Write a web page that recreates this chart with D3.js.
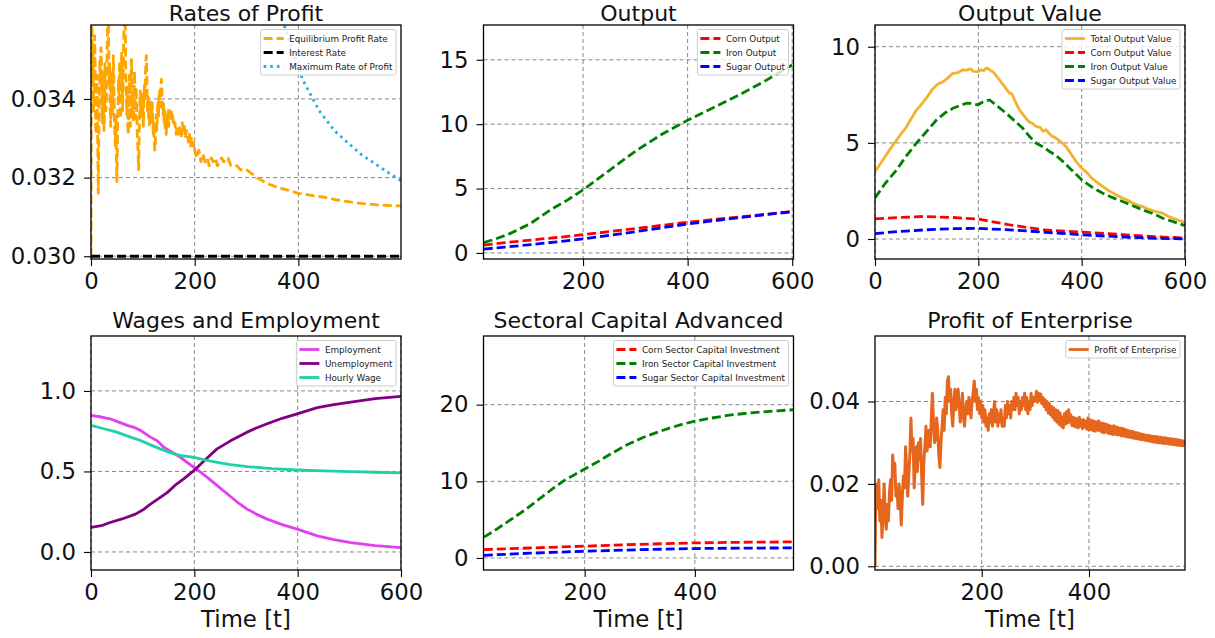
<!DOCTYPE html>
<html>
<head>
<meta charset="utf-8">
<script src="https://cdn.jsdelivr.net/npm/d3@7"></script>
<style>
  body { margin: 0; background: #fff; }
  svg { font-family: "DejaVu Sans", sans-serif; }
</style>
</head>
<body>
<svg id="chart" width="1215" height="638"></svg>
<script>
// equilibrium profit rate, one value per step for t = 0..149
const eqProfitRateEarly = [
  0.0300,0.0358,0.0362,0.0345,0.0352,0.0337,0.0341,0.0356,0.0349,0.0333,0.0331,0.0346,0.0342,0.0328,0.0316,0.0330,0.0339,0.0350,0.0344,0.0353,
  0.0352,0.0338,0.0334,0.0347,0.0341,0.0332,0.0336,0.0349,0.0345,0.0337,0.0341,0.0352,0.0358,0.0364,0.0355,0.0343,0.0349,0.0338,0.0333,0.0344,
  0.0347,0.0336,0.0340,0.0351,0.0346,0.0335,0.0331,0.0328,0.0336,0.0325,0.0319,0.0330,0.0338,0.0345,0.0341,0.0349,0.0347,0.0335,0.0339,0.0352,
  0.0348,0.0337,0.0344,0.0355,0.0359,0.0364,0.0362,0.0348,0.0341,0.0336,0.0343,0.0333,0.0331,0.0340,0.0346,0.0337,0.0333,0.0342,0.0350,0.0344,
  0.0337,0.0341,0.0334,0.0339,0.0347,0.0340,0.0335,0.0343,0.0339,0.0332,0.0329,0.0325,0.0322,0.0331,0.0338,0.0342,0.0336,0.0340,0.0335,0.0342,
  0.0338,0.0333,0.0339,0.0344,0.0340,0.0346,0.0350,0.0351,0.0344,0.0337,0.0341,0.0335,0.0339,0.0333,0.0336,0.0340,0.0338,0.0334,0.0339,0.0336,
  0.0331,0.0334,0.0329,0.0327,0.0328,0.0333,0.0336,0.0332,0.0337,0.0339,0.0335,0.0340,0.0342,0.0338,0.0341,0.0344,0.0345,0.0341,0.0338,0.0336,
  0.0339,0.0334,0.0337,0.0332,0.0335,0.0331,0.0333,0.0336,0.0334,0.0337
];
// [t, value] pairs from t = 150 on
const eqProfitRateLate = [
  [150,0.0333],[152,0.0337],[154,0.0335],[156,0.0337],[158,0.0335],
  [160,0.0333],[162,0.0334],[164,0.0331],[166,0.0333],[168,0.0331],[170,0.0333],[172,0.0332],[174,0.0330],[176,0.0334],[178,0.0332],
  [180,0.0333],[182,0.0330],[184,0.0332],[186,0.0331],[188,0.0329],[190,0.0331],[192,0.0328],[194,0.0330],[196,0.0328],[198,0.0329],
  [200,0.0327],[204,0.0325],[208,0.0327],[212,0.0324],[216,0.0326],[220,0.0324],[224,0.0325],[228,0.0323],[232,0.0325],[236,0.0324],
  [240,0.0325],[244,0.0323],[248,0.0324],[252,0.0325],[256,0.0324],[260,0.0325],[264,0.0325],[270,0.0323],[276,0.0323],[282,0.0323],
  [288,0.0322],[294,0.0322],[300,0.0322],[310,0.0321],[320,0.0320],[340,0.03185],[360,0.03175],[380,0.03168],[400,0.0316],[425,0.03155],
  [450,0.0315],[475,0.03143],[500,0.03138],[525,0.03134],[550,0.03131],[575,0.03129],[598,0.03128]
];
const eqProfitRate = eqProfitRateEarly.map((v, t) => [t, v]).concat(eqProfitRateLate);
const interestRate = [[0,0.0300],[598,0.0300]];
const maxProfitRate = [
  [350,0.0370],[362,0.0364],[372,0.0359],[385,0.0354],[395,0.0350],[408,0.0345],[424,0.0341],[440,0.0337],[455,0.03345],
  [469,0.0332],[490,0.03295],[520,0.0326],[545,0.03238],[565,0.0322],[585,0.03203],[598,0.03192]
];

const cornOutput = [[10,0.6],[50,0.8],[100,1.0],[150,1.2],[200,1.42],[250,1.65],[300,1.9],[350,2.14],[400,2.38],[450,2.6],[500,2.8],[550,3.0],[600,3.22]];
const ironOutput = [[10,0.8],[30,1.05],[60,1.5],[100,2.3],[140,3.4],[170,4.1],[200,4.9],[250,6.4],[300,7.9],[350,9.2],[400,10.3],[450,11.3],[500,12.3],[550,13.4],[600,14.6]];
const sugarOutput = [[10,0.3],[50,0.45],[100,0.65],[150,0.86],[200,1.09],[250,1.36],[300,1.65],[350,1.95],[400,2.25],[450,2.5],[500,2.75],[550,2.98],[600,3.2]];

const totalOutputValue = [
  [0,3.5],[10,3.9],[20,4.3],[30,4.7],[42,5.15],[50,5.45],[60,5.8],[70,6.25],[80,6.7],[90,7.0],[100,7.35],[110,7.75],[119,8.0],
  [125,8.1],[130,8.15],[140,8.35],[150,8.6],[160,8.65],[170,8.8],[177,8.78],[185,8.85],[190,8.72],[199,8.7],[205,8.8],[210,8.75],
  [216,8.9],[222,8.8],[230,8.65],[241,8.27],[250,7.95],[260,7.6],[265,7.55],[273,7.06],[280,6.7],[290,6.35],[298,6.1],[305,6.0],
  [312,5.85],[320,5.8],[325,5.6],[331,5.68],[340,5.4],[350,5.25],[363,4.98],[370,4.8],[380,4.4],[390,4.0],[400,3.69],[410,3.45],
  [420,3.15],[430,2.95],[440,2.75],[450,2.55],[460,2.4],[470,2.25],[479,2.13],[490,2.0],[500,1.85],[510,1.75],[518,1.69],[530,1.55],
  [540,1.45],[556,1.35],[570,1.15],[585,1.0],[600,0.85]
];
const cornOutputValue = [[0,1.05],[50,1.12],[93,1.17],[150,1.12],[199,1.04],[260,0.74],[325,0.48],[400,0.36],[485,0.22],[540,0.12],[600,0.05]];
const ironOutputValue = [
  [0,2.13],[20,2.9],[42,3.6],[60,4.3],[80,4.98],[100,5.6],[119,6.19],[135,6.55],[151,6.8],[165,6.95],[177,7.06],[190,7.05],
  [199,6.97],[210,7.15],[222,7.23],[235,6.95],[254,6.54],[270,6.15],[286,5.76],[300,5.3],[312,4.98],[325,4.8],[338,4.55],[350,4.35],
  [365,4.0],[380,3.6],[400,3.08],[420,2.7],[440,2.39],[460,2.15],[479,1.95],[500,1.72],[518,1.52],[540,1.3],[556,1.09],[580,0.88],[600,0.69]
];
const sugarOutputValue = [[0,0.28],[50,0.4],[100,0.48],[150,0.54],[199,0.55],[260,0.48],[330,0.35],[400,0.22],[485,0.1],[540,0.04],[600,0.0]];

const employment = [
  [0,0.848],[20,0.838],[37,0.827],[55,0.805],[70,0.786],[85,0.772],[96,0.754],[115,0.713],[128,0.69],[141,0.650],[157,0.62],
  [173,0.588],[186,0.556],[199,0.526],[212,0.495],[225,0.463],[245,0.41],[264,0.36],[283,0.31],[302,0.266],[320,0.235],
  [341,0.204],[370,0.17],[399,0.142],[438,0.10],[470,0.077],[503,0.058],[550,0.04],[600,0.027]
];
const unemployment = [
  [0,0.152],[20,0.163],[37,0.183],[60,0.205],[86,0.235],[100,0.26],[115,0.297],[130,0.33],[148,0.37],[165,0.42],[180,0.455],
  [199,0.505],[220,0.57],[244,0.64],[270,0.69],[302,0.744],[320,0.77],[341,0.796],[370,0.83],[399,0.858],[438,0.896],[470,0.915],
  [503,0.931],[550,0.952],[600,0.966]
];
const hourlyWage = [
  [0,0.786],[25,0.765],[50,0.744],[75,0.715],[96,0.692],[115,0.665],[134,0.64],[155,0.615],[173,0.599],[199,0.588],[220,0.572],
  [244,0.557],[270,0.542],[302,0.53],[350,0.517],[399,0.509],[450,0.503],[503,0.499],[550,0.495],[600,0.491]
];

const cornCapital = [[17,1.1],[100,1.3],[200,1.54],[300,1.78],[400,1.97],[500,2.06],[579,2.1]];
const ironCapital = [
  [17,2.72],[35,3.5],[53,4.38],[70,5.2],[89,6.13],[105,7.0],[125,8.1],[145,9.2],[162,10.07],[180,10.8],[200,11.6],[225,12.6],
  [247,13.57],[275,14.7],[307,15.75],[330,16.35],[350,16.85],[375,17.4],[400,17.85],[430,18.25],[459,18.6],[490,18.85],[519,19.03],[550,19.2],[579,19.34]
];
const sugarCapital = [[17,0.35],[100,0.62],[200,0.88],[300,1.08],[400,1.23],[500,1.29],[579,1.31]];

const enterpriseProfit = [
  [1,0.000],[2,0.012],[4,0.020],[6,0.014],[8,0.021],[10,0.011],[12,0.016],[14,0.007],[16,0.013],[18,0.020],[20,0.012],[22,0.009],
  [24,0.015],[26,0.011],[28,0.018],[30,0.021],[32,0.016],[34,0.027],[36,0.022],[38,0.025],[40,0.017],[42,0.019],[44,0.014],[46,0.020],
  [48,0.016],[50,0.010],[52,0.017],[54,0.022],[56,0.019],[58,0.029],[60,0.024],[62,0.017],[64,0.022],[66,0.027],[68,0.036],[70,0.028],
  [72,0.031],[74,0.019],[76,0.025],[78,0.029],[80,0.023],[82,0.030],[84,0.026],[86,0.031],[88,0.022],[90,0.015],[92,0.025],[94,0.029],
  [96,0.034],[98,0.028],[100,0.030],[102,0.033],[104,0.029],[106,0.036],[108,0.042],[110,0.035],[112,0.030],[114,0.031],[116,0.036],
  [118,0.033],[120,0.027],[122,0.024],[124,0.030],[126,0.034],[128,0.038],[130,0.033],[132,0.041],[134,0.037],[136,0.045],[138,0.046],
  [140,0.040],[142,0.043],[144,0.037],[146,0.034],[148,0.040],[150,0.043],[152,0.038],[154,0.041],[156,0.043],[158,0.039],[160,0.035],
  [162,0.038],[164,0.042],[166,0.036],[168,0.034],[170,0.038],[172,0.040],[174,0.037],[176,0.041],[178,0.039],[180,0.036],[182,0.040],
  [184,0.042],[186,0.045],[188,0.040],[190,0.043],[192,0.038],[194,0.041],[196,0.037],[198,0.040],[200,0.036],[202,0.039],[204,0.035],
  [206,0.038],[208,0.034],[210,0.036],[212,0.033],[214,0.037],[216,0.035],[218,0.038],[220,0.034],[222,0.037],[224,0.040],[226,0.035],
  [228,0.038],[230,0.034],[232,0.037],[234,0.035],[236,0.038],[238,0.034],[240,0.036],[242,0.034],[244,0.039],[246,0.036],[248,0.040],
  [250,0.037],[252,0.039],[254,0.036],[256,0.040],[258,0.038],[260,0.041],[262,0.038],[264,0.042],[266,0.039],[268,0.041],[270,0.037],
  [272,0.040],[274,0.038],[276,0.041],[278,0.039],[280,0.042],[282,0.038],[284,0.041],[286,0.037],[288,0.040],[290,0.038],[292,0.042],
  [294,0.039],[296,0.041],[298,0.040],[300,0.0405],[302,0.0425],[304,0.0398],[306,0.0420],[308,0.0402],[310,0.0418],[312,0.0395],
  [314,0.0410],[316,0.0388],[318,0.0405],[320,0.0380],[322,0.0400],[324,0.0372],[326,0.0395],[328,0.0368],[330,0.0388],[332,0.0362],
  [334,0.0385],[336,0.0355],[338,0.0380],[340,0.0350],[342,0.0378],[344,0.0345],[346,0.0372],[348,0.0340],[350,0.0362],[352,0.0336],
  [354,0.0370],[356,0.0345],[358,0.0375],[360,0.0348],[362,0.0380],[364,0.0350],[366,0.0368],[368,0.0342],[370,0.0362],[372,0.0340],
  [374,0.0360],[376,0.0338],[378,0.0358],[380,0.0336],[382,0.0362],[384,0.0340],[386,0.0355],[388,0.0334],[390,0.0356],[392,0.0338],
  [394,0.0352],[396,0.0333],[398,0.0360],[400,0.0330],[402,0.0356],[404,0.0332],[406,0.0354],[408,0.0329],[410,0.0352],[412,0.0328],
  [414,0.0350],[416,0.0331],[418,0.0353],[420,0.0329],[422,0.0348],[424,0.0326],[426,0.0347],[428,0.0324],[430,0.0346],[432,0.0326],
  [434,0.0344],[436,0.0323],[438,0.0342],[440,0.0322],[442,0.0340],[444,0.0320],[446,0.0341],[448,0.0321],[450,0.0339],[452,0.0319],
  [454,0.0337],[456,0.0319],[458,0.0335],[460,0.0317],[462,0.0335],[464,0.0316],[466,0.0333],[468,0.0315],[470,0.0331],[472,0.0314],
  [474,0.0329],[476,0.0313],[478,0.0328],[480,0.0312],[482,0.0327],[484,0.0311],[486,0.0325],[488,0.0310],[490,0.0324],[492,0.0309],
  [494,0.0322],[496,0.0308],[498,0.0321],[500,0.0307],[502,0.0320],[504,0.0306],[506,0.0318],[508,0.0305],[510,0.0318],[512,0.0304],
  [514,0.0317],[516,0.0303],[518,0.0316],[520,0.0302],[522,0.0315],[524,0.0301],[526,0.0315],[528,0.0300],[530,0.0314],[532,0.0300],
  [534,0.0313],[536,0.0299],[538,0.0312],[540,0.0298],[542,0.0312],[544,0.0298],[546,0.0311],[548,0.0297],[550,0.0310],[552,0.0296],
  [554,0.0309],[556,0.0296],[558,0.0309],[560,0.0295],[562,0.0308],[564,0.0294],[566,0.0307],[568,0.0294],[570,0.0306],[572,0.0293],
  [574,0.0305],[576,0.0293],[578,0.0304],[579,0.0299]
];

// ticks per panel
const profitRateTicks = [0.030, 0.032, 0.034];
const outputTicks = [0, 5, 10, 15];
const outputValueTicks = [0, 5, 10];
const wageTicks = [0.0, 0.5, 1.0];
const capitalTicks = [0, 10, 20];
const enterpriseTicks = [0.00, 0.02, 0.04];
const timeTicks = [0, 200, 400, 600];

const DASH = '9,4', DOT = '2.6,4';
const FONT = 22.8, TITLE_FONT = 22, LEGEND_FONT = 8.8;

const svg = d3.select('#chart');

function drawPanel(id, p) {
  const W = 310, H = 234;
  const g = svg.append('g').attr('transform', `translate(${p.left},${p.top})`);
  const x = d3.scaleLinear().domain(p.xDomain).range([0, W]);
  const y = d3.scaleLinear().domain(p.yDomain).range([H, 0]);
  const xt = timeTicks.filter(t => t >= p.xDomain[0] && t <= p.xDomain[1]);

  g.append('clipPath').attr('id', 'clip' + id)
    .append('rect').attr('width', W).attr('height', H);

  // grid
  g.selectAll('.gx').data(xt).enter().append('line')
    .attr('x1', d => x(d)).attr('x2', d => x(d)).attr('y1', 0).attr('y2', H)
    .attr('stroke', '#888').attr('stroke-width', 1).attr('stroke-dasharray', '4,3');
  g.selectAll('.gy').data(p.yTicks).enter().append('line')
    .attr('y1', d => y(d)).attr('y2', d => y(d)).attr('x1', 0).attr('x2', W)
    .attr('stroke', '#888').attr('stroke-width', 1).attr('stroke-dasharray', '4,3');

  const line = d3.line().x(d => x(d[0])).y(d => y(d[1]));
  const plot = g.append('g').attr('clip-path', `url(#clip${id})`);
  p.series.forEach(s => {
    plot.append('path').datum(s.data)
      .attr('d', line)
      .attr('fill', 'none')
      .attr('stroke', s.color)
      .attr('stroke-width', s.width || 2.8)
      .attr('stroke-linejoin', 'round')
      .attr('stroke-dasharray', s.dash || null);
  });

  // axes
  const xAxis = g.append('g').attr('transform', `translate(0,${H})`)
    .call(d3.axisBottom(x).tickValues(xt).tickSize(7).tickPadding(7).tickFormat(d3.format('d')));
  const yAxis = g.append('g')
    .call(d3.axisLeft(y).tickValues(p.yTicks).tickSize(7).tickPadding(8).tickFormat(d3.format(p.yFormat)));
  [xAxis, yAxis].forEach(a => {
    a.select('.domain').remove();
    a.selectAll('line').attr('stroke', '#000').attr('stroke-width', 1.1);
    a.selectAll('text').attr('font-size', FONT).attr('fill', '#111').attr('font-family', '"DejaVu Sans", sans-serif');
  });
  g.append('rect').attr('width', W).attr('height', H)
    .attr('fill', 'none').attr('stroke', '#000').attr('stroke-width', 1.3);

  g.append('text').attr('x', W / 2).attr('y', -p.titleGap)
    .attr('text-anchor', 'middle').attr('font-size', TITLE_FONT).attr('fill', '#111')
    .text(p.title);
  if (p.xLabel) {
    g.append('text').attr('x', W / 2).attr('y', H + 57)
      .attr('text-anchor', 'middle').attr('font-size', FONT).attr('fill', '#111')
      .text(p.xLabel);
  }

  // legend
  const leg = g.append('g');
  const box = leg.append('rect');
  const labels = p.series.map((s, i) => {
    const cy = 4.5 + 9 + i * 14;
    leg.append('line').attr('x1', 0).attr('x2', 20).attr('y1', cy).attr('y2', cy)
      .attr('stroke', s.color).attr('stroke-width', 2.8)
      .attr('stroke-dasharray', s.dash || null);
    return leg.append('text').attr('x', 25.5).attr('y', cy).attr('dy', '0.36em')
      .attr('font-size', LEGEND_FONT).attr('fill', '#222').text(s.name);
  });
  const tw = d3.max(labels, t => t.node().getComputedTextLength());
  const bw = 3 + 25.5 + tw + 3.5;
  const bh = 9 + (p.series.length - 1) * 14 + 8.5;
  const bx = W - 5 - bw;
  leg.selectAll('line').attr('transform', `translate(${bx + 3},0)`);
  leg.selectAll('text').attr('transform', `translate(${bx + 3},0)`);
  box.attr('x', bx).attr('y', 4.5).attr('width', bw).attr('height', bh).attr('rx', 2)
    .attr('fill', '#fff').attr('fill-opacity', 0.8).attr('stroke', '#ccc').attr('stroke-width', 1);
}

const panels = [
  { title: 'Rates of Profit', left: 91, top: 25, titleGap: 4.5, xDomain: [0, 598], yDomain: [0.02993, 0.03588],
    yTicks: profitRateTicks, yFormat: '.3f', series: [
      { name: 'Equilibrium Profit Rate', data: eqProfitRate, color: '#ffa500', dash: DASH },
      { name: 'Interest Rate', data: interestRate, color: '#000', dash: DASH },
      { name: 'Maximum Rate of Profit', data: maxProfitRate, color: '#22aee6', dash: DOT }] },
  { title: 'Output', left: 483.5, top: 25, titleGap: 4.5, xDomain: [9.6, 602.5], yDomain: [-0.47, 17.7],
    yTicks: outputTicks, yFormat: 'd', series: [
      { name: 'Corn Output', data: cornOutput, color: '#ff0000', dash: DASH },
      { name: 'Iron Output', data: ironOutput, color: '#008000', dash: DASH },
      { name: 'Sugar Output', data: sugarOutput, color: '#0000ff', dash: DASH }] },
  { title: 'Output Value', left: 875, top: 25, titleGap: 4.5, xDomain: [0, 600], yDomain: [-1.04, 11.13],
    yTicks: outputValueTicks, yFormat: 'd', series: [
      { name: 'Total Output Value', data: totalOutputValue, color: '#f2b22e' },
      { name: 'Corn Output Value', data: cornOutputValue, color: '#ff0000', dash: DASH },
      { name: 'Iron Output Value', data: ironOutputValue, color: '#008000', dash: DASH },
      { name: 'Sugar Output Value', data: sugarOutputValue, color: '#0000ff', dash: DASH }] },
  { title: 'Wages and Employment', left: 91, top: 336, titleGap: 8.5, xDomain: [0, 600], yDomain: [-0.112, 1.341],
    yTicks: wageTicks, yFormat: '.1f', xLabel: 'Time [t]', series: [
      { name: 'Employment', data: employment, color: '#e13ff0' },
      { name: 'Unemployment', data: unemployment, color: '#800080' },
      { name: 'Hourly Wage', data: hourlyWage, color: '#1fd1a5' }] },
  { title: 'Sectoral Capital Advanced', left: 483.5, top: 336, titleGap: 8.5, xDomain: [16.4, 579], yDomain: [-1.57, 28.96],
    yTicks: capitalTicks, yFormat: 'd', xLabel: 'Time [t]', series: [
      { name: 'Corn Sector Capital Investment', data: cornCapital, color: '#ff0000', dash: DASH },
      { name: 'Iron Sector Capital Investment', data: ironCapital, color: '#008000', dash: DASH },
      { name: 'Sugar Sector Capital Investment', data: sugarCapital, color: '#0000ff', dash: DASH }] },
  { title: 'Profit of Enterprise', left: 875, top: 336, titleGap: 8.5, xDomain: [1, 579], yDomain: [-0.0009, 0.0559],
    yTicks: enterpriseTicks, yFormat: '.2f', xLabel: 'Time [t]', series: [
      { name: 'Profit of Enterprise', data: enterpriseProfit, color: '#e6661e', width: 3 }] }
];

panels.forEach((p, i) => drawPanel(i, p));
</script>
</body>
</html>
